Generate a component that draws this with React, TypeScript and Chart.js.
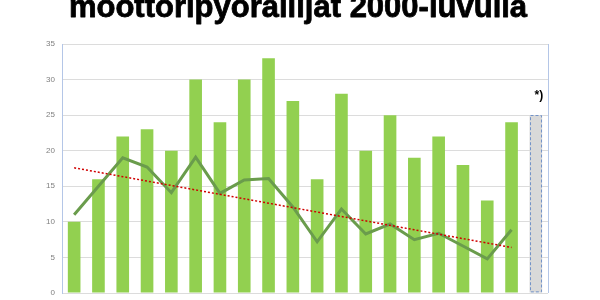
import React, { useEffect, useRef } from "react";
import { Chart, registerables } from "chart.js";

Chart.register(...registerables);

const titleText = "moottoripyöräilijät 2000-luvulla";
const categories = [
  "2000", "2001", "2002", "2003", "2004", "2005", "2006", "2007", "2008", "2009",
  "2010", "2011", "2012", "2013", "2014", "2015", "2016", "2017", "2018", "2019",
];
const barValues = [10, 16, 22, 23, 20, 30, 24, 30, 33, 27, 16, 28, 20, 25, 19, 22, 18, 13, 24];
const estimateValue = 25;
const estimateLabel = "*)";
const lineValues = [11, 15, 19, 17.7, 14.1, 19.1, 14, 15.9, 16.1, 12.1, 7.2, 11.8, 8.3, 9.7, 7.5, 8.4, 6.6, 4.8, 8.9];
const trendEnds = [17.6, 6.4];
const yTicks = [0, 5, 10, 15, 20, 25, 30, 35];

const BAR_GREEN = "#92d050";
const ESTIMATE_FILL = "#d9d9d9";
const ESTIMATE_BORDER = "#7393c8";
const LINE_GREEN = "#6a9c4c";
const TREND_RED = "#d00000";

export default function App() {
  const canvasRef = useRef<HTMLCanvasElement | null>(null);

  useEffect(() => {
    const canvas = canvasRef.current;
    if (!canvas) return;

    const barData = [...barValues, estimateValue];
    const estIndex = barData.length - 1;
    const barColors = barData.map((_, i) => (i === estIndex ? ESTIMATE_FILL : BAR_GREEN));
    const lineData = categories.map((_, i) => (i < lineValues.length ? lineValues[i] : null));
    const trendData = categories.map((_, i) =>
      i === 0 ? trendEnds[0] : i === lineValues.length - 1 ? trendEnds[1] : null
    );

    const decorPlugin = {
      id: "decor",
      afterDatasetsDraw(chart: any) {
        const ctx = chart.ctx;
        const area = chart.chartArea;
        ctx.save();
        ctx.strokeStyle = "#b4c6e7";
        ctx.lineWidth = 1;
        ctx.beginPath();
        ctx.moveTo(Math.round(area.right) + 0.5, area.top);
        ctx.lineTo(Math.round(area.right) + 0.5, area.bottom);
        ctx.stroke();
        ctx.restore();

        const meta = chart.getDatasetMeta(0);
        const bar = meta.data[estIndex];
        if (bar) {
          const p = bar.getProps(["x", "y", "base", "width"], true);
          const left = Math.round(p.x - p.width / 2) + 0.5;
          const right = Math.round(p.x + p.width / 2) - 0.5;
          ctx.save();
          ctx.strokeStyle = ESTIMATE_BORDER;
          ctx.lineWidth = 1;
          ctx.setLineDash([3, 2]);
          ctx.strokeRect(left, Math.round(p.y) + 0.5, right - left, p.base - p.y - 1);
          ctx.setLineDash([]);
          ctx.fillStyle = "#000";
          ctx.font = "bold 12px 'Liberation Sans', Arial, sans-serif";
          ctx.textAlign = "center";
          ctx.textBaseline = "middle";
          ctx.fillText(estimateLabel, p.x + 3, p.y - 19);
          ctx.restore();
        }
      },
      afterDraw(chart: any) {
        const ctx = chart.ctx;
        ctx.save();
        ctx.fillStyle = "#000";
        ctx.strokeStyle = "#000";
        ctx.lineWidth = 0.8;
        ctx.lineJoin = "round";
        ctx.font = "bold 31px 'Liberation Sans', Arial, sans-serif";
        ctx.textAlign = "center";
        ctx.textBaseline = "alphabetic";
        ctx.fillText(titleText, 298, 17);
        ctx.strokeText(titleText, 298, 17);
        ctx.restore();
      },
    };

    const chart = new Chart(canvas, {
      type: "bar",
      data: {
        labels: categories,
        datasets: [
          {
            type: "bar",
            data: barData,
            backgroundColor: barColors,
            borderWidth: 0,
            categoryPercentage: 1,
            barPercentage: 0.52,
            order: 3,
          },
          {
            type: "line",
            data: lineData,
            borderColor: LINE_GREEN,
            borderWidth: 3,
            pointRadius: 0,
            tension: 0,
            fill: false,
            order: 2,
          },
          {
            type: "line",
            data: trendData,
            borderColor: TREND_RED,
            borderWidth: 1.5,
            borderDash: [2, 2],
            pointRadius: 0,
            tension: 0,
            spanGaps: true,
            fill: false,
            order: 1,
          },
        ] as any,
      },
      options: {
        responsive: false,
        animation: false,
        layout: { padding: { left: 0, top: 44, right: 52, bottom: 7 } },
        plugins: {
          legend: { display: false },
          tooltip: { enabled: false },
          title: { display: false },
        },
        scales: {
          x: {
            display: false,
            grid: { display: false },
          },
          y: {
            min: 0,
            max: 35,
            afterFit(scale: any) {
              scale.width = 62;
              scale.paddingTop = 0;
              scale.paddingBottom = 0;
            },
            afterBuildTicks(scale: any) {
              scale.ticks = yTicks.map((v) => ({ value: v }));
            },
            ticks: {
              padding: 7,
              color: "#7f7f7f",
              font: { size: 8, family: "'Liberation Sans', Arial, sans-serif" },
            },
            grid: {
              color: "#dcdcdc",
              lineWidth: 1,
              drawTicks: false,
            },
            border: { display: true, color: "#b4c6e7", width: 1 },
          },
        },
      },
      plugins: [decorPlugin],
    });

    return () => chart.destroy();
  }, []);

  return (
    <div style={{ position: "absolute", left: 0, top: 0, width: 600, height: 300, background: "#fff" }}>
      <canvas ref={canvasRef} width={600} height={300} style={{ display: "block" }} />
    </div>
  );
}
